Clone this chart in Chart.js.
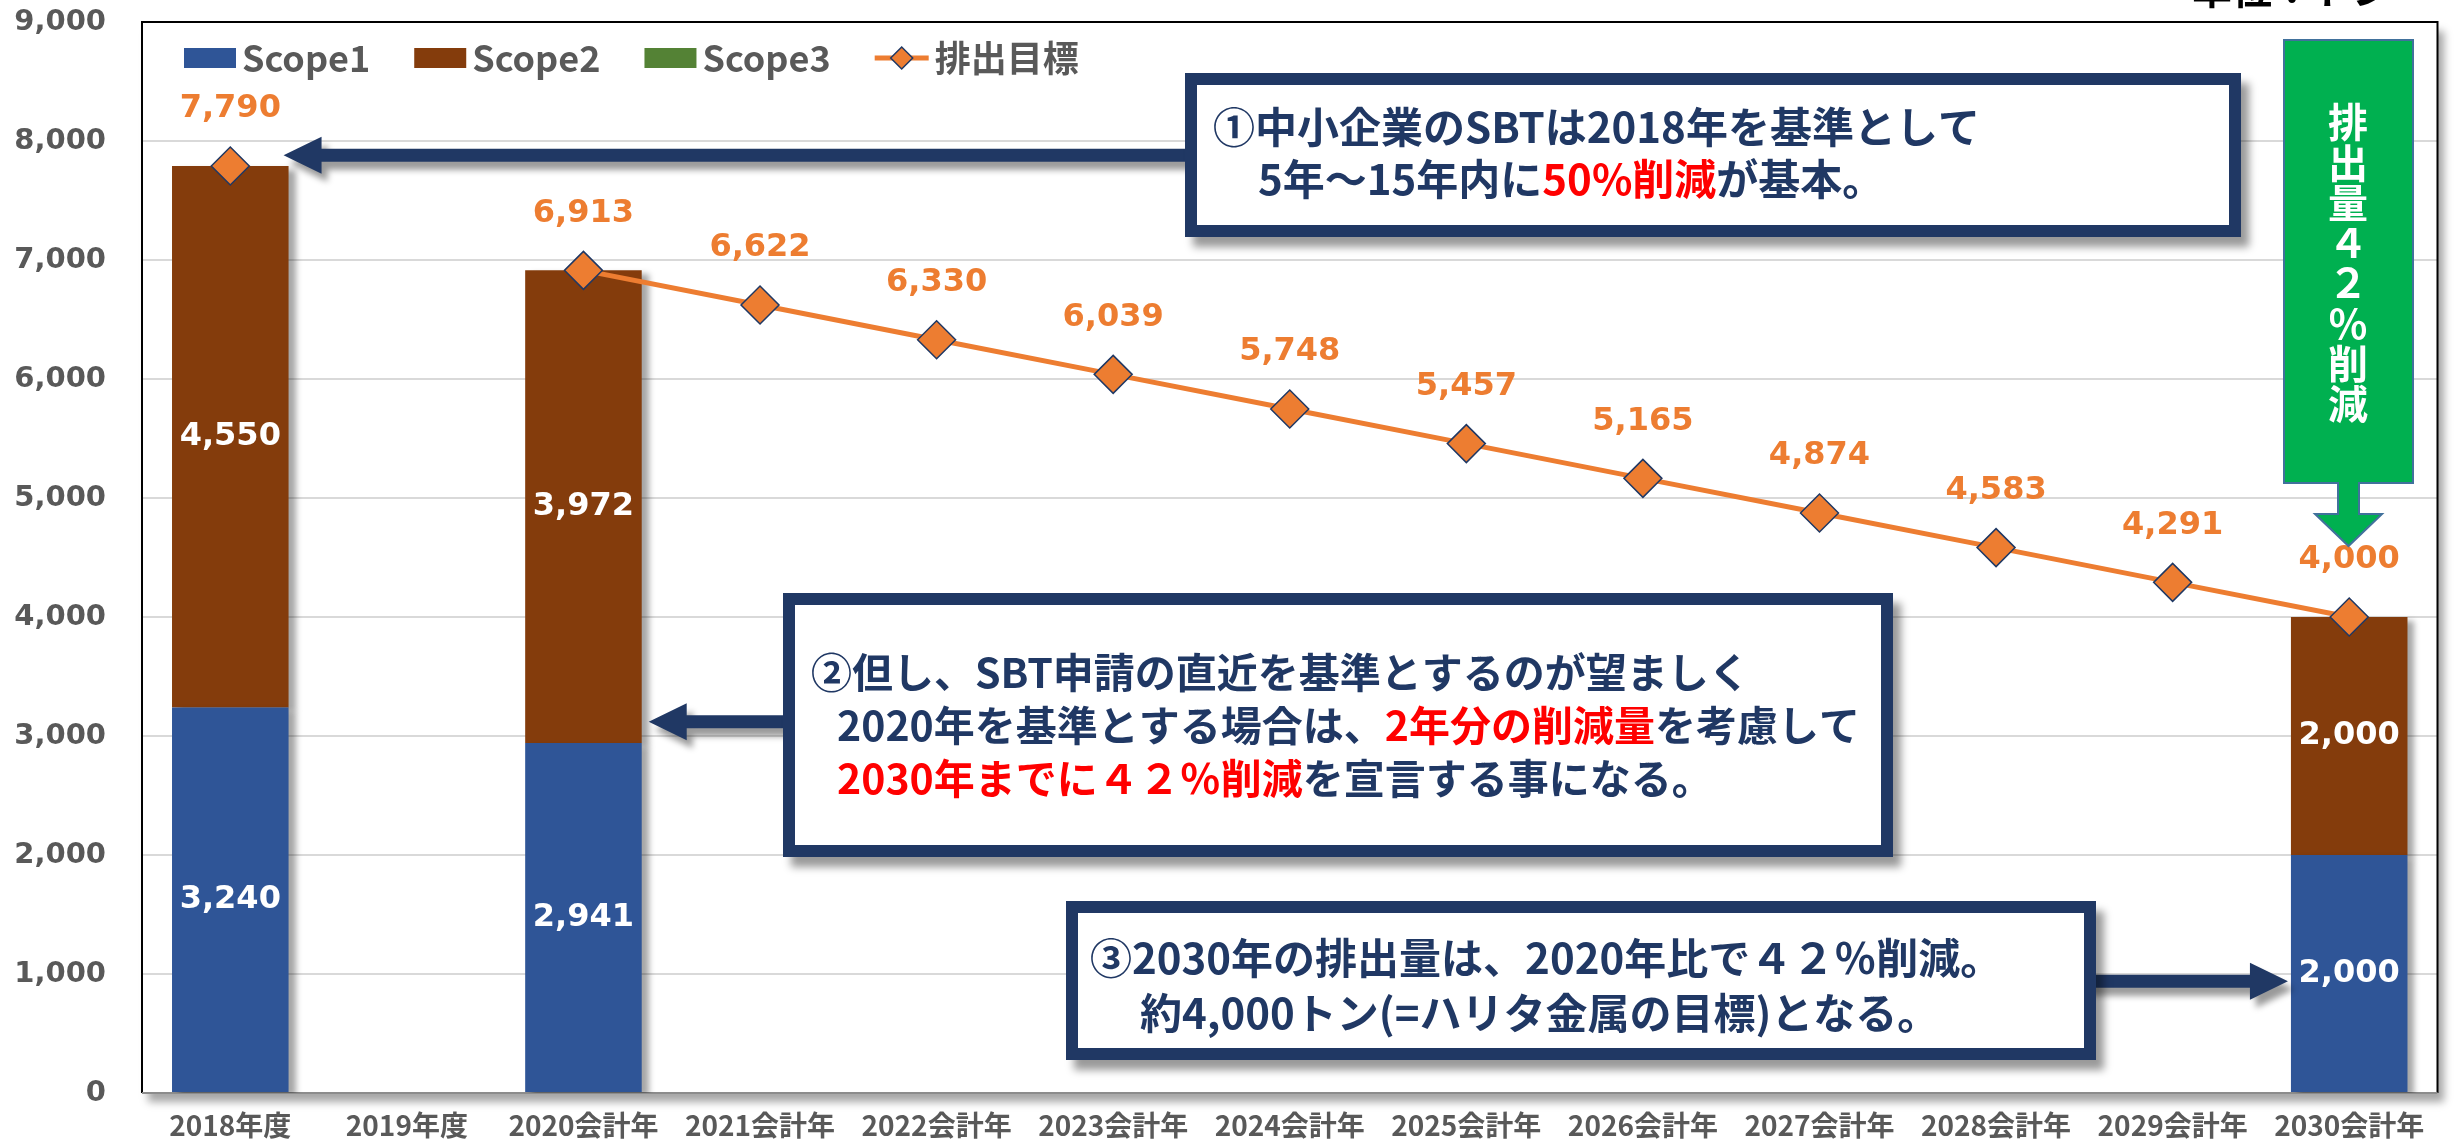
<!DOCTYPE html>
<html>
<head>
<meta charset="utf-8">
<script src="https://cdn.jsdelivr.net/npm/chart.js@4.4.1/dist/chart.umd.min.js"></script>
<style>
  html, body { margin: 0; padding: 0; background: #fff; overflow: hidden; }
  canvas { display: block; }
</style>
</head>
<body>
<canvas id="chart" width="2458" height="1140"></canvas>
<script>
const categories = ['2018年度', '2019年度', '2020会計年', '2021会計年', '2022会計年', '2023会計年', '2024会計年',
    '2025会計年', '2026会計年', '2027会計年', '2028会計年', '2029会計年', '2030会計年'];
const scope1 = [3240, null, 2941, null, null, null, null, null, null, null, null, null, 2000];
const scope2 = [4550, null, 3972, null, null, null, null, null, null, null, null, null, 2000];
const scope3 = [0, null, 0, null, null, null, null, null, null, null, null, null, 0];
const target = [7790, null, 6913, 6622, 6330, 6039, 5748, 5457, 5165, 4874, 4583, 4291, 4000];
const seriesNames = ['Scope1', 'Scope2', 'Scope3', '排出目標'];
const yMax = 9000;
const yStep = 1000;

const NAVY = '#203864';
const RED = '#FF0000';
const GRAY_TEXT = '#595959';
const ORANGE = '#ED7D31';
const JP = '"Noto Sans CJK JP", "Noto Sans", sans-serif';
const NUM = '"DejaVu Sans", sans-serif';

function fmt(v) {
    return v.toLocaleString('en-US');
}

// plot box with its drop shadow, border drawn over the grid
const plotFrame = {
    id: 'plotFrame',
    beforeDraw(chart) {
        const {ctx, chartArea: a} = chart;
        ctx.save();
        ctx.fillStyle = '#fff';
        ctx.shadowColor = 'rgba(0,0,0,0.35)';
        ctx.shadowBlur = 8;
        ctx.shadowOffsetX = 6;
        ctx.shadowOffsetY = 9;
        ctx.fillRect(a.left, a.top, a.width, a.height);
        ctx.restore();
    },
    beforeDatasetsDraw(chart) {
        const {ctx, chartArea: a} = chart;
        ctx.save();
        ctx.lineWidth = 2;
        ctx.strokeStyle = '#000';
        ctx.beginPath();
        ctx.moveTo(a.left, a.bottom);
        ctx.lineTo(a.left, a.top);
        ctx.lineTo(a.right, a.top);
        ctx.lineTo(a.right, a.bottom);
        ctx.stroke();
        ctx.strokeStyle = '#8c8c8c';
        ctx.beginPath();
        ctx.moveTo(a.left, a.bottom);
        ctx.lineTo(a.right, a.bottom);
        ctx.stroke();
        ctx.restore();
    }
};

const barShadow = {
    id: 'barShadow',
    beforeDatasetDraw(chart, args) {
        if (args.meta.type !== 'bar') return;
        const ctx = chart.ctx;
        ctx.save();
        ctx.shadowColor = 'rgba(0,0,0,0.35)';
        ctx.shadowBlur = 6;
        ctx.shadowOffsetX = 7;
        ctx.shadowOffsetY = 4;
    },
    afterDatasetDraw(chart, args) {
        if (args.meta.type === 'bar') chart.ctx.restore();
    }
};

const valueLabels = {
    id: 'valueLabels',
    afterDatasetsDraw(chart) {
        const ctx = chart.ctx;
        ctx.save();
        ctx.textAlign = 'center';
        ctx.textBaseline = 'middle';
        ctx.font = `bold 32px ${NUM}`;
        chart.data.datasets.forEach((ds, i) => {
            const meta = chart.getDatasetMeta(i);
            meta.data.forEach((el, j) => {
                const v = ds.data[j];
                if (v === null || v === 0) return;
                if (meta.type === 'bar') {
                    ctx.fillStyle = '#fff';
                    ctx.fillText(fmt(v), el.x, (el.y + el.base) / 2);
                } else {
                    ctx.fillStyle = ORANGE;
                    ctx.fillText(fmt(v), el.x, el.y - 57);
                }
            });
        });
        ctx.restore();
    }
};

// legend drawn inside the plot area, like the original
const insideLegend = {
    id: 'insideLegend',
    afterDraw(chart) {
        const {ctx, chartArea: a} = chart;
        const cy = a.top + 36;
        let x = a.left + 42;
        ctx.save();
        ctx.font = `bold 36px ${JP}`;
        ctx.textBaseline = 'middle';
        chart.data.datasets.forEach((ds) => {
            if (ds.type === 'bar') {
                ctx.fillStyle = ds.backgroundColor;
                ctx.fillRect(x, cy - 10, 52, 20);
                x += 58;
            } else {
                ctx.strokeStyle = ds.borderColor;
                ctx.lineWidth = 5;
                ctx.beginPath();
                ctx.moveTo(x, cy);
                ctx.lineTo(x + 54, cy);
                ctx.stroke();
                ctx.beginPath();
                ctx.moveTo(x + 27 - 11, cy);
                ctx.lineTo(x + 27, cy - 11);
                ctx.lineTo(x + 27 + 11, cy);
                ctx.lineTo(x + 27, cy + 11);
                ctx.closePath();
                ctx.fillStyle = ds.pointBackgroundColor;
                ctx.fill();
                ctx.lineWidth = 1.5;
                ctx.strokeStyle = ds.pointBorderColor;
                ctx.stroke();
                x += 60;
            }
            ctx.fillStyle = GRAY_TEXT;
            ctx.fillText(ds.label, x, cy);
            x += ctx.measureText(ds.label).width + 44;
        });
        ctx.restore();
    }
};

function drawRuns(ctx, runs, x, y) {
    for (const [text, color] of runs) {
        ctx.fillStyle = color;
        ctx.fillText(text, x, y);
        x += ctx.measureText(text).width;
    }
}

function drawBox(ctx, l, t, r, b) {
    ctx.save();
    ctx.shadowColor = 'rgba(0,0,0,0.4)';
    ctx.shadowBlur = 8;
    ctx.shadowOffsetX = 8;
    ctx.shadowOffsetY = 10;
    ctx.fillStyle = NAVY;
    ctx.fillRect(l, t, r - l, b - t);
    ctx.restore();
    ctx.fillStyle = '#fff';
    ctx.fillRect(l + 12, t + 12, r - l - 24, b - t - 24);
}

function drawArrow(ctx, x0, x1, y) {
    const sh = 6.5, hh = 18.5, hl = 38;
    const s = Math.sign(x1 - x0);
    ctx.save();
    ctx.shadowColor = 'rgba(0,0,0,0.4)';
    ctx.shadowBlur = 6;
    ctx.shadowOffsetX = 6;
    ctx.shadowOffsetY = 8;
    ctx.fillStyle = NAVY;
    ctx.beginPath();
    ctx.moveTo(x0, y - sh);
    ctx.lineTo(x1 - s * hl, y - sh);
    ctx.lineTo(x1 - s * hl, y - hh);
    ctx.lineTo(x1, y);
    ctx.lineTo(x1 - s * hl, y + hh);
    ctx.lineTo(x1 - s * hl, y + sh);
    ctx.lineTo(x0, y + sh);
    ctx.closePath();
    ctx.fill();
    ctx.restore();
}

const callouts = {
    id: 'callouts',
    afterDraw(chart) {
        const ctx = chart.ctx;
        const yS = chart.scales.y;
        const bars = chart.getDatasetMeta(0).data;
        const edge = (el, side) => el.x + side * el.width / 2;

        // arrows first, boxes cover their tails
        drawArrow(ctx, 1200, edge(bars[0], 1) - 5, yS.getPixelForValue(7880));
        drawArrow(ctx, 800, edge(bars[2], 1) + 7, yS.getPixelForValue(3120));
        drawArrow(ctx, 2080, edge(bars[12], -1) - 3, yS.getPixelForValue(940));

        drawBox(ctx, 1185, 73, 2241, 237);
        drawBox(ctx, 783, 593, 1893, 857);
        drawBox(ctx, 1066, 901, 2096, 1060);

        ctx.save();
        ctx.textBaseline = 'middle';
        ctx.textAlign = 'left';
        ctx.font = `bold 42px ${JP}`;
        drawRuns(ctx, [['①中小企業のSBTは2018年を基準として', NAVY]], 1213, 127);
        drawRuns(ctx, [['5年～15年内に', NAVY], ['50%削減', RED], ['が基本。', NAVY]], 1258, 179);

        ctx.font = `bold 41px ${JP}`;
        drawRuns(ctx, [['②但し、SBT申請の直近を基準とするのが望ましく', NAVY]], 811, 672);
        drawRuns(ctx, [['2020年を基準とする場合は、', NAVY], ['2年分の削減量', RED], ['を考慮して', NAVY]], 837, 725);
        drawRuns(ctx, [['2030年までに４２％削減', RED], ['を宣言する事になる。', NAVY]], 837, 778);

        ctx.font = `bold 42px ${JP}`;
        drawRuns(ctx, [['③2030年の排出量は、2020年比で４２％削減。', NAVY]], 1090, 958);
        drawRuns(ctx, [['約4,000トン(=ハリタ金属の目標)となる。', NAVY]], 1140, 1013);
        ctx.restore();

        // green down arrow with vertical text
        ctx.save();
        ctx.beginPath();
        ctx.moveTo(2284, 40);
        ctx.lineTo(2413, 40);
        ctx.lineTo(2413, 483);
        ctx.lineTo(2359, 483);
        ctx.lineTo(2359, 514);
        ctx.lineTo(2382, 514);
        ctx.lineTo(2348.5, 546);
        ctx.lineTo(2315, 514);
        ctx.lineTo(2338, 514);
        ctx.lineTo(2338, 483);
        ctx.lineTo(2284, 483);
        ctx.closePath();
        ctx.fillStyle = '#00B050';
        ctx.fill();
        ctx.lineWidth = 2;
        ctx.strokeStyle = '#41719C';
        ctx.stroke();
        ctx.fillStyle = '#fff';
        ctx.font = `bold 40px ${JP}`;
        ctx.textAlign = 'center';
        ctx.textBaseline = 'middle';
        ['排', '出', '量', '４', '２', '％', '削', '減'].forEach((c, i) => {
            ctx.fillText(c, 2348, 122 + i * 40.3);
        });

        // unit label, cut off at the top as in the original
        ctx.fillStyle = '#000';
        ctx.font = `bold 40px ${JP}`;
        ctx.textAlign = 'right';
        ctx.textBaseline = 'alphabetic';
        ctx.fillText('単位：トン', 2392, 4);
        ctx.restore();
    }
};

const barColors = ['#2F5597', '#843C0C', '#548235'];

new Chart(document.getElementById('chart').getContext('2d'), {
    data: {
        labels: categories,
        datasets: [
            ...[scope1, scope2, scope3].map((values, i) => ({
                type: 'bar',
                label: seriesNames[i],
                data: values,
                backgroundColor: barColors[i],
                borderWidth: 0,
                categoryPercentage: 0.66,
                barPercentage: 1,
                stack: 'scope',
                order: 1
            })),
            {
                type: 'line',
                label: seriesNames[3],
                data: target,
                borderColor: ORANGE,
                backgroundColor: ORANGE,
                borderWidth: 5,
                tension: 0,
                spanGaps: false,
                pointStyle: 'rectRot',
                pointRadius: 19,
                pointBackgroundColor: ORANGE,
                pointBorderColor: '#1F3864',
                pointBorderWidth: 1.5,
                stack: 'target',
                order: 0,
                clip: false
            }
        ]
    },
    options: {
        responsive: false,
        animation: false,
        events: [],
        layout: {padding: {top: 22, right: 13, left: 0, bottom: 0}},
        plugins: {
            legend: {display: false},
            tooltip: {enabled: false},
            title: {display: false}
        },
        scales: {
            x: {
                stacked: true,
                grid: {display: false, drawTicks: false},
                border: {display: false},
                ticks: {
                    padding: 16,
                    autoSkip: false,
                    maxRotation: 0,
                    color: GRAY_TEXT,
                    font: {family: JP, size: 28, weight: 'bold'}
                },
                afterFit(scale) {
                    scale.height = 47;
                }
            },
            y: {
                stacked: true,
                min: 0,
                max: yMax,
                grid: {color: '#d9d9d9', lineWidth: 2, drawTicks: false},
                border: {display: false},
                ticks: {
                    stepSize: yStep,
                    padding: 36,
                    color: GRAY_TEXT,
                    font: {family: NUM, size: 29, weight: 'bold'},
                    callback: v => fmt(v)
                },
                afterFit(scale) {
                    scale.width = 142;
                    scale.paddingTop = 18;
                    scale.paddingBottom = 18;
                }
            }
        }
    },
    plugins: [plotFrame, barShadow, valueLabels, insideLegend, callouts]
});
</script>
</body>
</html>
